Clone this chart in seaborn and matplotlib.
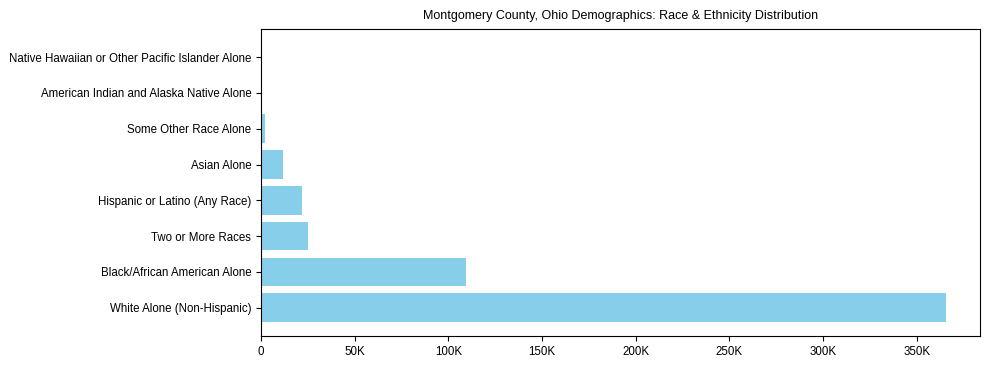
import matplotlib
matplotlib.use("Agg")
import matplotlib.pyplot as plt
from matplotlib.ticker import FuncFormatter
import seaborn as sns
import pandas as pd

# values, bottom bar first
groups = [
    "White Alone (Non-Hispanic)",
    "Black/African American Alone",
    "Two or More Races",
    "Hispanic or Latino (Any Race)",
    "Asian Alone",
    "Some Other Race Alone",
    "American Indian and Alaska Native Alone",
    "Native Hawaiian or Other Pacific Islander Alone",
]
population = [365600, 109200, 25000, 21900, 11700, 2100, 700, 200]

TITLE = "Montgomery County, Ohio Demographics: Race & Ethnicity Distribution"

sns.set_style("ticks")
plt.rcParams["font.family"] = ["Liberation Sans", "DejaVu Sans"]
plt.rcParams["text.color"] = "black"
plt.rcParams["xtick.color"] = "black"
plt.rcParams["ytick.color"] = "black"

df = pd.DataFrame({"group": groups, "population": population})
order = groups[::-1]  # seaborn draws the first category at the top

fig, ax = plt.subplots(figsize=(9.89, 3.7), dpi=100)
sns.barplot(data=df, y="group", x="population", order=order, orient="h",
            color="skyblue", saturation=1, width=0.8, linewidth=0, ax=ax)

n = len(groups)
ax.set_ylim(n - 1 + 0.79, -0.79)
ax.set_xlim(0, max(population) * 1.05)
ax.xaxis.set_major_formatter(FuncFormatter(lambda v, _: "0" if v == 0 else f"{v/1000:.0f}K"))
ax.set_xlabel("")
ax.set_ylabel("")
ax.set_title(TITLE, fontsize=9, pad=7)
ax.tick_params(labelsize=8.3)
for s in ax.spines.values():
    s.set_visible(True)
    s.set_color("black")

fig.subplots_adjust(left=0.264, right=0.991, top=0.922, bottom=0.092)
fig.savefig("out.png", dpi=100)
